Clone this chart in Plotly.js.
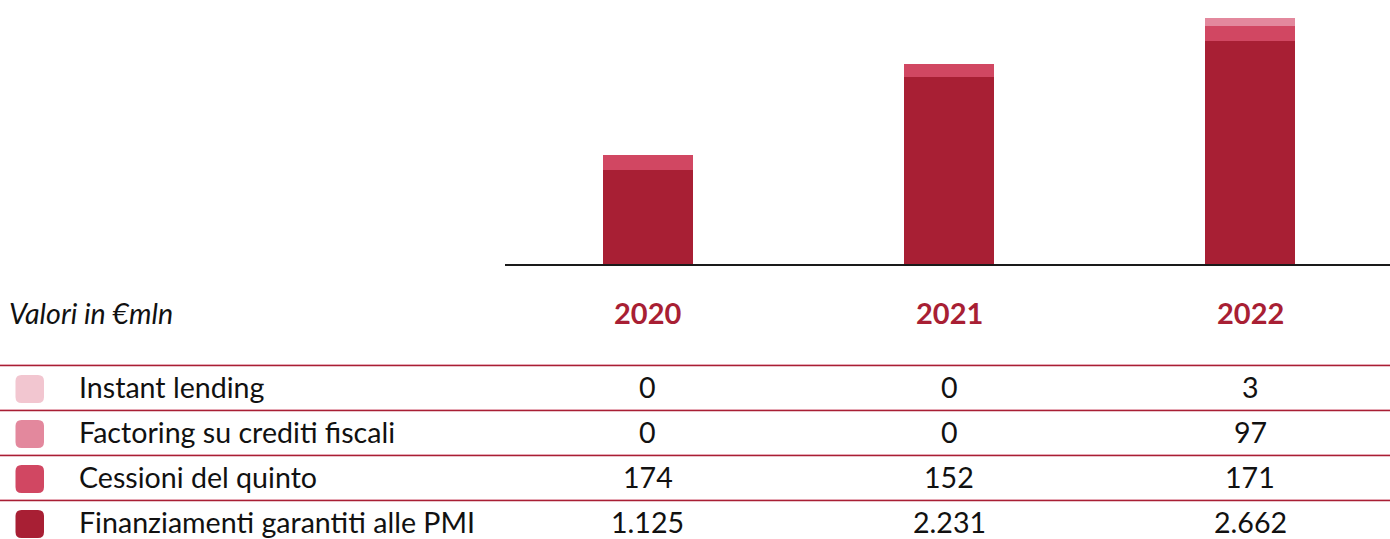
<!DOCTYPE html>
<html>
<head>
<meta charset="utf-8">
<script src="https://cdn.plot.ly/plotly-3.0.1.min.js"></script>
<style>
html,body{margin:0;padding:0;background:#fff;}
#chart{width:1390px;height:539px;}
</style>
</head>
<body>
<div id="chart"></div>
<script>
// ---- data ----
const years = ["2020", "2021", "2022"];
const seriesNames = ["Finanziamenti garantiti alle PMI", "Cessioni del quinto", "Factoring su crediti fiscali", "Instant lending"];
const finanziamentiPMI = [1125, 2231, 2662];
const cessioniQuinto = [174, 152, 171];
const factoringFiscali = [0, 0, 97];
const instantLending = [0, 0, 3];
const seriesColors = ["#a81f34", "#d14762", "#e3889d", "#f2c6d0"];
const unitLabel = "Valori in €mln";

const seriesValues = [finanziamentiPMI, cessioniQuinto, factoringFiscali, instantLending];

// ---- geometry (pixels -> paper) ----
const W = 1390, H = 539;
const px = v => v / W;
const py = v => 1 - v / H;

function fmtIt(n) {
  const s = String(Math.round(n));
  return s.replace(/\B(?=(\d{3})+(?!\d))/g, ".");
}

const traces = seriesNames.map((name, i) => ({
  type: "bar",
  name: name,
  x: years,
  y: seriesValues[i],
  width: 0.299,
  marker: {color: seriesColors[i], line: {width: 0}},
  hoverinfo: "skip",
  showlegend: false
}));

const annotations = [];
const shapes = [];
const FS = 28.6;

// unit label
annotations.push({
  xref: "paper", yref: "paper", x: px(7), y: py(313),
  xanchor: "left", yanchor: "middle", showarrow: false,
  text: "<i>" + unitLabel + "</i>",
  font: {family: "Lato", size: FS, color: "#111"}
});

// year headers
years.forEach((yr, j) => {
  annotations.push({
    xref: "x", yref: "paper", x: j, y: py(312),
    xanchor: "center", yanchor: "middle", showarrow: false,
    text: "<b>" + yr + "</b>",
    font: {family: "Lato", size: 29, color: "#a81f34"}
  });
});

// table rows (top row = last series)
const rowOrder = [3, 2, 1, 0];
rowOrder.forEach((si, r) => {
  const cy = 389 + r * 45;
  const lineY = 365 + r * 45;
  // separator line (double tone)
  shapes.push({type: "line", xref: "paper", yref: "paper", x0: 0, x1: 1, y0: py(lineY - 0.5), y1: py(lineY - 0.5),
    line: {color: "#e6a9b5", width: 1}});
  shapes.push({type: "line", xref: "paper", yref: "paper", x0: 0, x1: 1, y0: py(lineY + 0.6), y1: py(lineY + 0.6),
    line: {color: "#a81f34", width: 1.4}});
  // swatch (rounded square)
  const x0 = 15.5, x1 = 44, y0 = cy - 14, y1 = cy + 14, rr = 6;
  const path = "M" + px(x0 + rr) + "," + py(y0) +
    " L" + px(x1 - rr) + "," + py(y0) +
    " Q" + px(x1) + "," + py(y0) + " " + px(x1) + "," + py(y0 + rr) +
    " L" + px(x1) + "," + py(y1 - rr) +
    " Q" + px(x1) + "," + py(y1) + " " + px(x1 - rr) + "," + py(y1) +
    " L" + px(x0 + rr) + "," + py(y1) +
    " Q" + px(x0) + "," + py(y1) + " " + px(x0) + "," + py(y1 - rr) +
    " L" + px(x0) + "," + py(y0 + rr) +
    " Q" + px(x0) + "," + py(y0) + " " + px(x0 + rr) + "," + py(y0) + " Z";
  shapes.push({type: "path", xref: "paper", yref: "paper", path: path,
    fillcolor: seriesColors[si], line: {width: 0}});
  // label
  annotations.push({
    xref: "paper", yref: "paper", x: px(77), y: py(cy - 2),
    xanchor: "left", yanchor: "middle", showarrow: false,
    text: seriesNames[si],
    font: {family: "Lato", size: FS, color: "#111"}
  });
  // values
  years.forEach((yr, j) => {
    annotations.push({
      xref: "x", yref: "paper", x: j, y: py(cy - 2),
      xanchor: "center", yanchor: "middle", showarrow: false,
      text: fmtIt(seriesValues[si][j]),
      font: {family: "Lato", size: FS, color: "#111"}
    });
  });
});

const layout = {
  width: W, height: H,
  margin: {l: 0, r: 0, t: 0, b: 0, pad: 0},
  paper_bgcolor: "#fff", plot_bgcolor: "#fff",
  barmode: "stack",
  bargap: 0,
  showlegend: false,
  xaxis: {
    type: "category",
    domain: [505 / W, 1],
    range: [-0.475, 2.465],
    showline: true, linecolor: "#1a1a1a", linewidth: 1.6,
    showticklabels: false, ticks: "", showgrid: false, zeroline: false,
    fixedrange: true
  },
  yaxis: {
    domain: [1 - 264 / H, 1],
    range: [0, 3148],
    showline: false, showticklabels: false, ticks: "", showgrid: false, zeroline: false,
    fixedrange: true
  },
  annotations: annotations,
  shapes: shapes
};

Plotly.newPlot("chart", traces, layout, {displayModeBar: false, staticPlot: true});
</script>
</body>
</html>
